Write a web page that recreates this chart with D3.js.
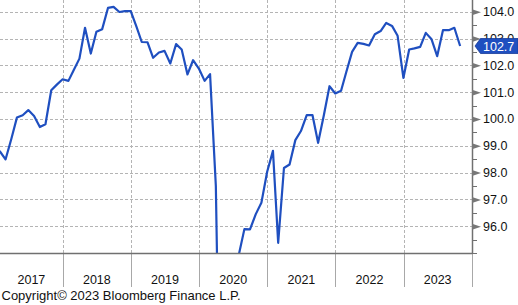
<!DOCTYPE html>
<html>
<head>
<meta charset="utf-8">
<script src="https://cdn.jsdelivr.net/npm/d3@7"></script>
<style>
html,body{margin:0;padding:0;background:#fff;}
svg{display:block;}
text{font-family:"Liberation Sans",Arial,sans-serif;}
</style>
</head>
<body>
<svg id="chart" width="518" height="305"></svg>
<script>
// Monthly observations (month-end dates)
const months = [
"2016-12",
"2017-01","2017-02","2017-03","2017-04","2017-05","2017-06","2017-07","2017-08","2017-09","2017-10","2017-11","2017-12",
"2018-01","2018-02","2018-03","2018-04","2018-05","2018-06","2018-07","2018-08","2018-09","2018-10","2018-11","2018-12",
"2019-01","2019-02","2019-03","2019-04","2019-05","2019-06","2019-07","2019-08","2019-09","2019-10","2019-11","2019-12",
"2020-01","2020-02","2020-03","2020-04","2020-05","2020-06","2020-07","2020-08","2020-09","2020-10","2020-11","2020-12",
"2021-01","2021-02","2021-03","2021-04","2021-05","2021-06","2021-07","2021-08","2021-09","2021-10","2021-11","2021-12",
"2022-01","2022-02","2022-03","2022-04","2022-05","2022-06","2022-07","2022-08","2022-09","2022-10","2022-11","2022-12",
"2023-01","2023-02","2023-03","2023-04","2023-05","2023-06","2023-07","2023-08","2023-09","2023-10"
];
const values = [
99.0,
98.77,98.49,99.25,100.05,100.14,100.33,100.11,99.70,99.80,101.07,101.28,101.48,
101.42,101.82,102.25,103.40,102.44,103.25,103.35,104.14,104.18,103.99,104.02,104.02,
103.43,102.87,102.86,102.28,102.48,102.54,102.07,102.79,102.59,101.66,102.19,101.88,
101.42,101.67,97.5,85.0,86.5,91.0,94.9,95.89,95.88,96.45,96.87,98.03,
98.81,95.38,98.17,98.30,99.21,99.55,100.14,100.14,99.11,100.15,101.22,100.95,
101.05,101.75,102.50,102.84,102.80,102.74,103.16,103.28,103.58,103.47,103.10,101.53,
102.59,102.63,102.69,103.21,102.97,102.34,103.31,103.31,103.40,102.72
];
const yearLabels = ["2017","2018","2019","2020","2021","2022","2023"];
const yMajorTicks = [96,97,98,99,100,101,102,103,104];
const yMinorTicks = [95,95.5,96.5,97.5,98.5,99.5,100.5,101.5,102.5,103.5];
const lastLabel = "102.7";
const copyright = "Copyright\u00A9 2023 Bloomberg Finance L.P.";

const svg = d3.select("#chart");
const plotL = 0, plotR = 472, plotT = 0, plotB = 253;
const lineColor = "#1f4fc0";

const parse = d3.utcParse("%Y-%m");
const monthEnd = s => d3.utcDay.offset(d3.utcMonth.offset(parse(s), 1), -1);
const data = months.map((m, i) => ({date: monthEnd(m), value: values[i]}));

const x = d3.scaleUtc()
  .domain([new Date(Date.UTC(2017,0,1)), new Date(Date.UTC(2024,0,1))])
  .range([-5.3, 471.7]);
const y = d3.scaleLinear().domain([95, 104]).range([253, 11.7]);

// clip
svg.append("defs").append("clipPath").attr("id","clip")
  .append("rect").attr("x",plotL).attr("y",plotT).attr("width",plotR-plotL).attr("height",plotB-plotT);

// grid
const yearBounds = x.ticks(d3.utcYear.every(1)).filter(d => x(d) > 1 && x(d) < plotR - 2);
svg.append("g").selectAll("line").data(yearBounds).join("line")
  .attr("x1", d => Math.round(x(d)) + 0.5).attr("x2", d => Math.round(x(d)) + 0.5)
  .attr("y1", plotT).attr("y2", plotB)
  .attr("stroke", "#b4b4b4").attr("stroke-dasharray", "3,2");
svg.append("g").selectAll("line").data(yMajorTicks).join("line")
  .attr("x1", plotL).attr("x2", plotR)
  .attr("y1", d => Math.round(y(d)) + 0.5).attr("y2", d => Math.round(y(d)) + 0.5)
  .attr("stroke", "#b4b4b4").attr("stroke-dasharray", "3,2");

// line
const line = d3.line().x(d => x(d.date)).y(d => y(d.value));
svg.append("path").datum(data)
  .attr("clip-path","url(#clip)")
  .attr("d", line).attr("fill","none")
  .attr("stroke", lineColor).attr("stroke-width", 2.2)
  .attr("stroke-linejoin","round");

// bottom axis
const yearStarts = yearLabels.map(s => new Date(Date.UTC(+s,0,1)));
const xAxisG = svg.append("g");
const tickDates = x.ticks(d3.utcYear.every(1)).filter(d => x(d) > 1);
xAxisG.selectAll("line.tk").data(tickDates).join("line")
  .attr("class","tk")
  .attr("x1", d => Math.round(x(d)) + 0.5).attr("x2", d => Math.round(x(d)) + 0.5)
  .attr("y1", plotB).attr("y2", 287)
  .attr("stroke", "#a8a8a8").attr("stroke-width", 1);
xAxisG.append("line").attr("x1", plotL).attr("x2", plotR + 0.5)
  .attr("y1", plotB + 0.5).attr("y2", plotB + 0.5)
  .attr("stroke", "#707070").attr("stroke-width", 1.5);
xAxisG.selectAll("text").data(yearStarts).join("text")
  .attr("x", d => {
    const a = Math.max(plotL, x(d));
    const b = Math.min(plotR, x(d3.utcYear.offset(d, 1)));
    return (a + b) / 2;
  })
  .attr("y", 284)
  .attr("text-anchor","middle")
  .attr("font-size", 12.5)
  .attr("fill", "#111")
  .text((d, i) => yearLabels[i]);

// right axis
const yAxisG = svg.append("g");
yAxisG.append("line").attr("x1", plotR + 0.5).attr("x2", plotR + 0.5)
  .attr("y1", plotT).attr("y2", plotB + 1)
  .attr("stroke", "#707070").attr("stroke-width", 1.5);
yAxisG.selectAll("line.minor").data(yMinorTicks).join("line")
  .attr("class","minor")
  .attr("x1", plotR).attr("x2", plotR + 5)
  .attr("y1", d => Math.round(y(d)) + 0.5).attr("y2", d => Math.round(y(d)) + 0.5)
  .attr("stroke", "#707070").attr("stroke-width", 1);
yAxisG.selectAll("path.tri").data(yMajorTicks).join("path")
  .attr("class","tri")
  .attr("d", d => {
    const yy = y(d) + 0.5;
    return `M${plotR},${yy-3}L${plotR+9},${yy}L${plotR},${yy+3}Z`;
  })
  .attr("fill", "#777");
yAxisG.selectAll("text").data(yMajorTicks).join("text")
  .attr("x", 483)
  .attr("y", d => y(d) + 4.5)
  .attr("font-size", 12.5)
  .attr("fill", "#111")
  .text(d => d.toFixed(1));

// last value label
const last = data[data.length - 1];
const ly = y(last.value);
svg.append("path")
  .attr("d", `M475,${ly}L480.5,${ly-7.5}L518,${ly-7.5}L518,${ly+7.5}L480.5,${ly+7.5}Z`)
  .attr("fill", lineColor).attr("stroke", "#163a96").attr("stroke-width", 0.8);
svg.append("text")
  .attr("x", 483).attr("y", ly + 4.5)
  .attr("font-size", 12.5).attr("fill", "#fff")
  .text(lastLabel);

// copyright
svg.append("text")
  .attr("x", 1.5).attr("y", 299.5)
  .attr("font-size", 13).attr("fill", "#111")
  .text(copyright);
</script>
</body>
</html>
